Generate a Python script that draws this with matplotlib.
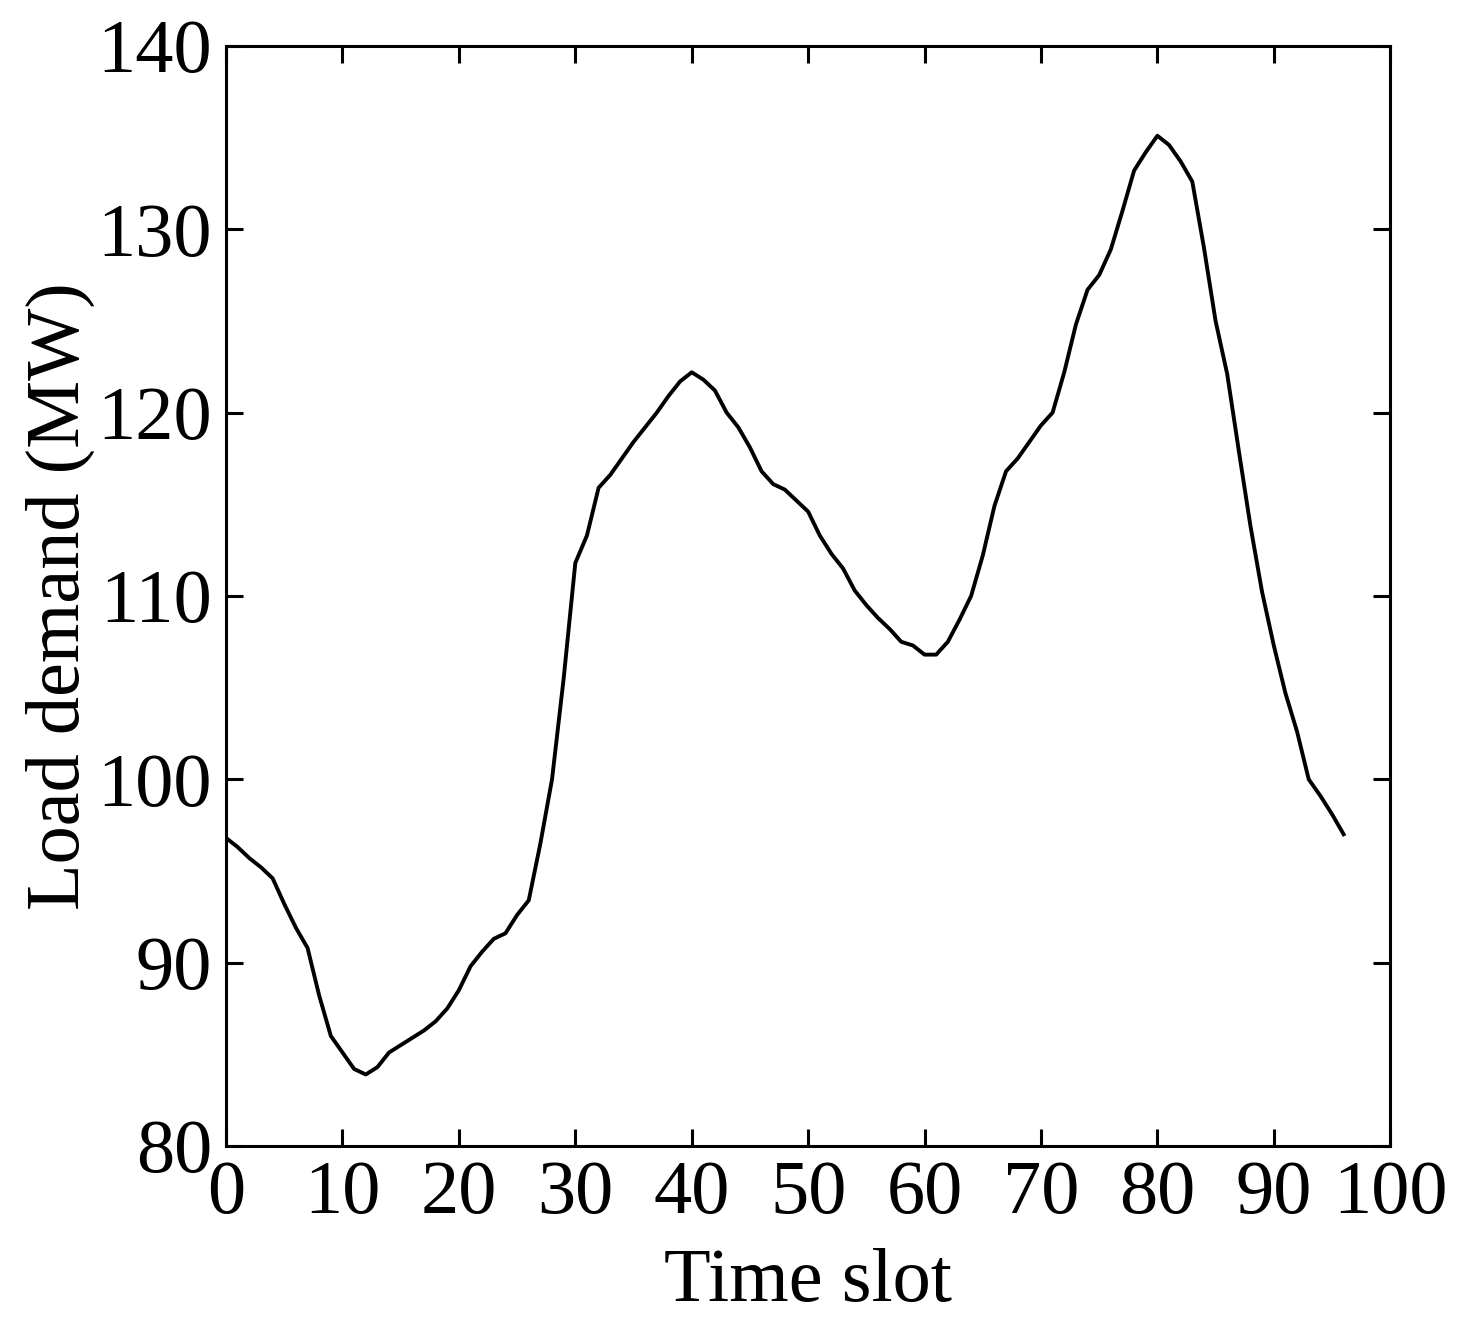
import numpy as np
import matplotlib
matplotlib.use("Agg")
import matplotlib.pyplot as plt

# time slots 0..96
time_slot = list(range(97))
load_mw = [
    96.8, 96.3, 95.7, 95.2, 94.6, 93.2, 91.9, 90.8, 88.2, 86.0,
    85.1, 84.2, 83.9, 84.3, 85.1, 85.5, 85.9, 86.3, 86.8, 87.5,
    88.5, 89.8, 90.6, 91.3, 91.6, 92.6, 93.4, 96.5, 100.0, 105.5,
    111.8, 113.3, 115.9, 116.6, 117.5, 118.4, 119.2, 120.0, 120.9, 121.7,
    122.2, 121.8, 121.2, 120.0, 119.2, 118.1, 116.8, 116.1, 115.8, 115.2,
    114.6, 113.3, 112.3, 111.5, 110.3, 109.5, 108.8, 108.2, 107.5, 107.3,
    106.8, 106.8, 107.5, 108.7, 110.0, 112.2, 114.9, 116.8, 117.5, 118.4,
    119.3, 120.0, 122.2, 124.8, 126.7, 127.5, 128.9, 131.0, 133.2, 134.2,
    135.1, 134.6, 133.7, 132.6, 129.0, 125.0, 122.1, 117.9, 113.8, 110.2,
    107.3, 104.7, 102.6, 100.0, 99.1, 98.1, 97.0,
]
x_ticks = [0, 10, 20, 30, 40, 50, 60, 70, 80, 90, 100]
y_ticks = [80, 90, 100, 110, 120, 130, 140]

plt.rcParams['font.family'] = ['Liberation Serif', 'DejaVu Serif']

fig = plt.figure(figsize=(14.68, 13.31), dpi=100, facecolor='white')
ax = fig.add_axes([0.154, 0.139, 0.793, 0.8265])
ax.plot(time_slot, load_mw, color='black', lw=2.8)

ax.set_xlim(0, 100)
ax.set_ylim(80, 140)
ax.set_xticks(x_ticks)
ax.set_yticks(y_ticks)
ax.tick_params(direction='in', which='both', top=True, right=True,
               length=12, width=2.2, labelsize=55, pad=10)
for s in ax.spines.values():
    s.set_linewidth(2.2)

ax.set_xlabel("Time slot", fontsize=55, labelpad=14)
ax.set_ylabel("Load demand (MW)", fontsize=55, labelpad=2)

fig.savefig("out.png", dpi=100, facecolor='white')
